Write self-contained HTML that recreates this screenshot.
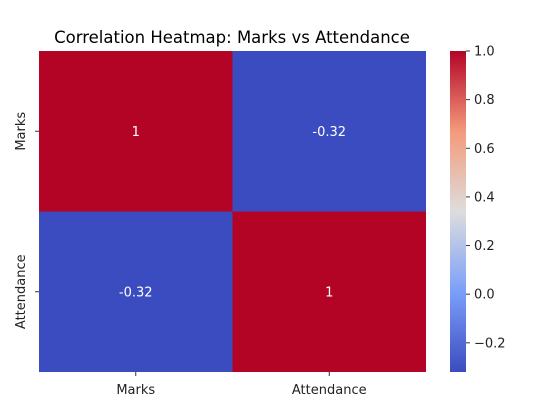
<!DOCTYPE html>
<html><head><meta charset="utf-8"><style>
body{margin:0;background:#fff;}
svg{display:block;font-family:"DejaVu Sans","Liberation Sans",sans-serif;}
</style></head><body>
<svg id="c" width="536" height="410">
<defs><linearGradient id="cw" x1="0" y1="1" x2="0" y2="0">
<stop offset="0" stop-color="#3b4cc0"/><stop offset="0.25" stop-color="#7b9ff9"/><stop offset="0.5" stop-color="#dddddd"/><stop offset="0.75" stop-color="#f49a7b"/><stop offset="1" stop-color="#b40426"/>
</linearGradient></defs>
<text x="232" y="43" text-anchor="middle" font-size="16.5" fill="#000">Correlation Heatmap: Marks vs Attendance</text>
<g id="cells"></g>
<rect x="450" y="51" width="16" height="321" fill="url(#cw)"/>
<g id="cbticks"></g>
</svg>
<script>
const labels=["Marks","Attendance"];
const values=[[1,-0.32],[-0.32,1]];
const cbTicks=[1.0,0.8,0.6,0.4,0.2,0.0,-0.2];
const vmin=-0.32,vmax=1;
const L=39,T=51,W=387,H=321;
const ns="http://www.w3.org/2000/svg";
const svg=document.getElementById('c'),cells=document.getElementById('cells'),cb=document.getElementById('cbticks');
function mk(t,a,p){const e=document.createElementNS(ns,t);for(const k in a)e.setAttribute(k,a[k]);(p||svg).appendChild(e);return e;}
const stops=[[0,[59,76,192]],[0.25,[123,159,249]],[0.5,[221,221,221]],[0.75,[244,154,123]],[1,[180,4,38]]];
function color(v){let t=(v-vmin)/(vmax-vmin);t=Math.max(0,Math.min(1,t));for(let i=1;i<stops.length;i++){if(t<=stops[i][0]){const a=stops[i-1],b=stops[i],f=(t-a[0])/(b[0]-a[0]);return 'rgb('+a[1].map((c,j)=>Math.round(c+(b[1][j]-c)*f)).join(',')+')';}}return 'rgb(180,4,38)';}
const n=labels.length,cw=W/n,ch=H/n;
for(let r=0;r<n;r++)for(let c=0;c<n;c++){
 const rc=mk('rect',{x:L+c*cw,y:T+r*ch,width:cw,height:ch,fill:color(values[r][c])},cells);
 
 
 const tx=mk('text',{x:L+c*cw+cw/2,y:T+r*ch+ch/2+4.5,'text-anchor':'middle','font-size':'13',fill:'#fff'},cells);
 tx.textContent=String(values[r][c]);
 
 
}
labels.forEach((lb,i)=>{
 const x=L+i*cw+cw/2;
 mk('line',{x1:x,x2:x,y1:T+H,y2:T+H+4,stroke:'#333'});
 const t=mk('text',{x:x,y:T+H+22,'text-anchor':'middle','font-size':'13',fill:'#222'});
 t.textContent=lb;
 
 
 const y=T+i*ch+ch/2;
 mk('line',{x1:L-4,x2:L,y1:y,y2:y,stroke:'#333'});
 const t2=mk('text',{x:0,y:0,'text-anchor':'middle','font-size':'13',fill:'#222',transform:'translate(25,'+y+') rotate(-90)'});
 t2.textContent=lb;
 
 
});
cbTicks.forEach(v=>{
 const y=T+H-(v-vmin)/(vmax-vmin)*H;
 mk('line',{x1:466,x2:470,y1:y,y2:y,stroke:'#333'},cb);
 const t=mk('text',{x:474,y:y+4.5,'font-size':'13',fill:'#222'},cb);
 t.textContent=(v<0?'\u2212':'')+Math.abs(v).toFixed(1);
 
 
});
</script>
</body></html>
